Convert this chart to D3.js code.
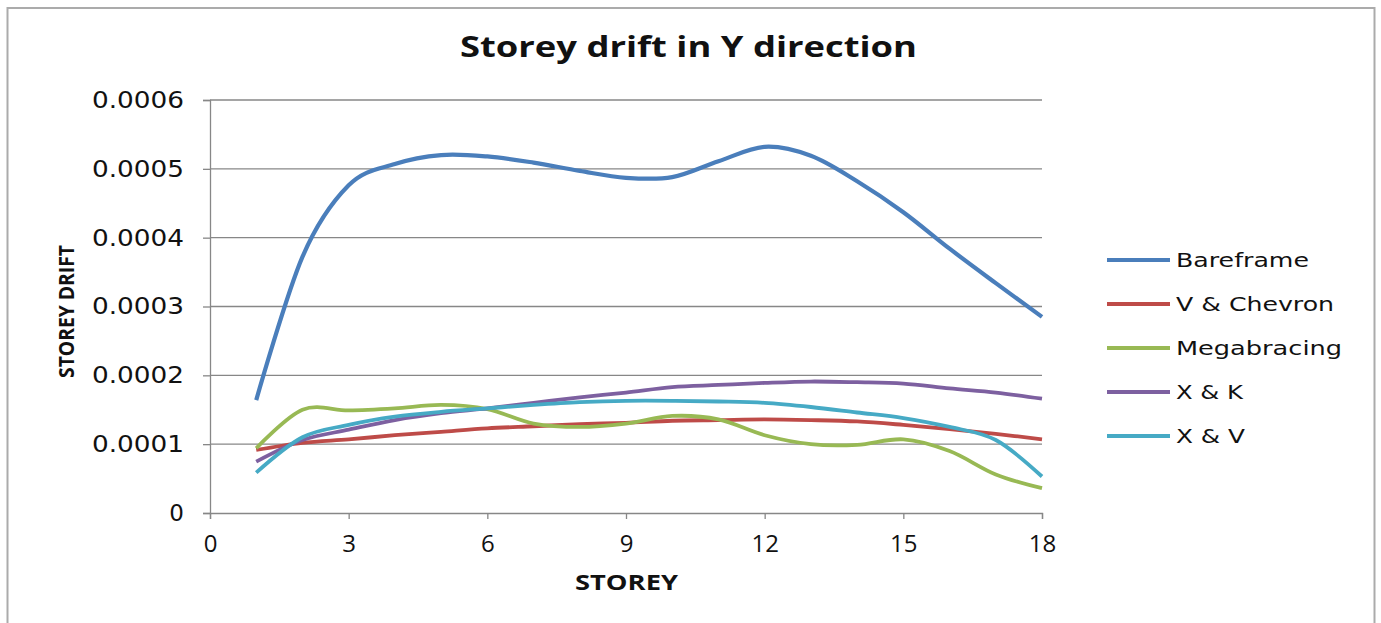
<!DOCTYPE html>
<html>
<head>
<meta charset="utf-8">
<script src="https://cdn.jsdelivr.net/npm/d3@7"></script>
<style>
  html, body { margin: 0; padding: 0; background: #fff; }
  svg { display: block; }
</style>
</head>
<body>
<script>
// Storey numbers (x values)
const storeys = [1, 2, 3, 4, 5, 6, 7, 8, 9, 10, 11, 12, 13, 14, 15, 16, 17, 18];

// Storey drift per bracing system
const bareframe   = [0.000164, 0.000372, 0.000476, 0.000507, 0.000520, 0.000518, 0.000509, 0.000497, 0.000487, 0.000488, 0.000511, 0.000532, 0.000519, 0.000482, 0.000437, 0.000384, 0.000334, 0.000285];
const vChevron    = [0.0000916, 0.000102, 0.000107, 0.000113, 0.000118, 0.000123, 0.000126, 0.000129, 0.000131, 0.000134, 0.000135, 0.000136, 0.000135, 0.000133, 0.000128, 0.000122, 0.000115, 0.000107];
const megabracing = [0.000094, 0.000150, 0.000149, 0.000152, 0.000157, 0.000151, 0.000130, 0.000125, 0.000130, 0.000141, 0.000136, 0.000113, 0.000100, 0.000099, 0.000107, 0.000090, 0.000056, 0.000036];
const xAndK       = [0.0000746, 0.000106, 0.000121, 0.000135, 0.000145, 0.000152, 0.000160, 0.000168, 0.000175, 0.000183, 0.000186, 0.000189, 0.000191, 0.000190, 0.000188, 0.000181, 0.000175, 0.000166];
const xAndV       = [0.0000586, 0.000110, 0.000128, 0.000140, 0.000147, 0.000152, 0.000157, 0.000161, 0.000163, 0.000163, 0.000162, 0.000160, 0.000154, 0.000146, 0.000138, 0.000125, 0.000106, 0.000053];

const seriesNames = ["Bareframe", "V & Chevron", "Megabracing", "X & K", "X & V"];
const seriesValues = [bareframe, vChevron, megabracing, xAndK, xAndV];
const seriesColors = ["#4A7EBB", "#BE4B48", "#98B954", "#7D60A0", "#46AAC5"];

const xTicks = [0, 3, 6, 9, 12, 15, 18];
const yTicks = [0, 0.0001, 0.0002, 0.0003, 0.0004, 0.0005, 0.0006];

const W = 1381, H = 623;
const plot = { left: 210, right: 1042, top: 100, bottom: 513 };

const svg = d3.select("body").append("svg")
  .attr("width", W).attr("height", H);

// Chart frame
svg.append("rect")
  .attr("x", 7.5).attr("y", 8).attr("width", 1367).attr("height", H + 10)
  .attr("fill", "#fff").attr("stroke", "#ababab").attr("stroke-width", 2);

const x = d3.scaleLinear().domain([0, 18]).range([plot.left, plot.right]);
const y = d3.scaleLinear().domain([0, 0.0006]).range([plot.bottom, plot.top]);

// Horizontal gridlines
svg.append("g")
  .selectAll("line")
  .data(yTicks.slice(1))
  .join("line")
  .attr("x1", plot.left).attr("x2", plot.right)
  .attr("y1", d => y(d)).attr("y2", d => y(d))
  .attr("stroke", "#878787").attr("stroke-width", 1.3);

// Y axis
const yAxis = svg.append("g")
  .attr("transform", `translate(${plot.left},0)`)
  .call(d3.axisLeft(y).tickValues(yTicks).tickSize(7).tickPadding(19)
    .tickFormat(d => d === 0 ? "0" : d3.format(".4f")(d)));
yAxis.select(".domain").attr("stroke", "#878787").attr("stroke-width", 1.3);
yAxis.selectAll(".tick line").attr("stroke", "#878787").attr("stroke-width", 1.3);
yAxis.selectAll(".tick text")
  .attr("font-family", "DejaVu Sans").attr("font-size", 23).attr("fill", "#111")
  .each(function (d) {
    if (d !== 0) d3.select(this).attr("textLength", 92).attr("lengthAdjust", "spacingAndGlyphs");
  });

// X axis
const xAxis = svg.append("g")
  .attr("transform", `translate(0,${plot.bottom})`)
  .call(d3.axisBottom(x).tickValues(xTicks).tickSize(6).tickPadding(16));
xAxis.select(".domain").attr("stroke", "#878787").attr("stroke-width", 1.3);
xAxis.selectAll(".tick line").attr("stroke", "#878787").attr("stroke-width", 1.3);
xAxis.selectAll(".tick text")
  .attr("font-family", "Open Sans").attr("font-size", 24).attr("fill", "#111");

// Smoothed series lines
const line = d3.line()
  .x((d, i) => x(storeys[i]))
  .y(d => y(d))
  .curve(d3.curveCardinal.tension(0));

svg.append("g")
  .selectAll("path")
  .data(seriesValues)
  .join("path")
  .attr("d", d => line(d))
  .attr("fill", "none")
  .attr("stroke", (d, i) => seriesColors[i])
  .attr("stroke-width", (d, i) => i === 0 ? 4.2 : 3.8)
  .attr("stroke-linejoin", "round");

// Title
svg.append("text")
  .attr("x", 460).attr("y", 57)
  .attr("font-family", "Open Sans").attr("font-weight", "bold")
  .attr("font-size", 28).attr("fill", "#111")
  .attr("textLength", 457).attr("lengthAdjust", "spacingAndGlyphs")
  .text("Storey drift in Y direction");

// Axis titles
svg.append("text")
  .attr("x", 575).attr("y", 590)
  .attr("font-family", "Open Sans").attr("font-weight", "bold")
  .attr("font-size", 22).attr("fill", "#111")
  .attr("textLength", 103).attr("lengthAdjust", "spacingAndGlyphs")
  .text("STOREY");

svg.append("text")
  .attr("transform", "translate(74,378) rotate(-90)")
  .attr("font-family", "Open Sans").attr("font-weight", "bold")
  .attr("font-size", 22).attr("fill", "#111")
  .attr("textLength", 133).attr("lengthAdjust", "spacingAndGlyphs")
  .text("STOREY DRIFT");

// Legend
const legendWidths = [133, 158, 166, 67, 69];
const legend = svg.append("g")
  .selectAll("g")
  .data(seriesNames)
  .join("g")
  .attr("transform", (d, i) => `translate(1107,${260 + i * 44})`);
legend.append("line")
  .attr("x1", 0).attr("x2", 63).attr("y1", 0).attr("y2", 0)
  .attr("stroke", (d, i) => seriesColors[i]).attr("stroke-width", 3.8);
legend.append("text")
  .attr("x", 69).attr("y", 7)
  .attr("font-family", "DejaVu Sans").attr("font-size", 20).attr("fill", "#111")
  .attr("textLength", (d, i) => legendWidths[i]).attr("lengthAdjust", "spacingAndGlyphs")
  .text(d => d);
</script>
</body>
</html>
